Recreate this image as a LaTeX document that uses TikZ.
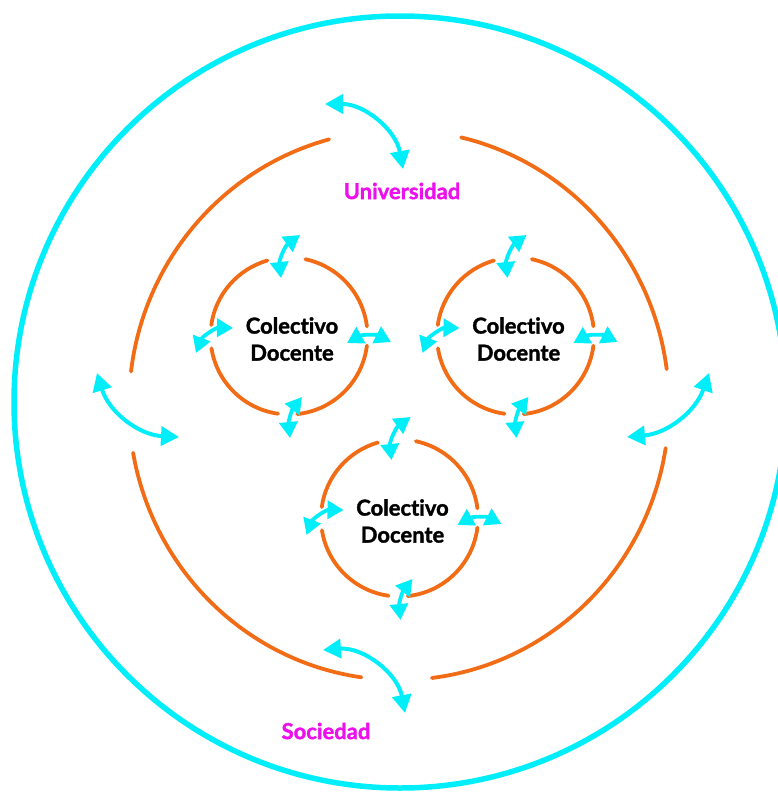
\documentclass[tikz,border=0pt]{standalone}
\usepackage{fontspec}
\setmainfont{Lato}[Ligatures=NoCommon, BoldFeatures={FakeBold=1.5}]
\usetikzlibrary{arrows.meta}
\definecolor{skyc}{RGB}{0,238,250}
\definecolor{ringc}{RGB}{242,108,22}
\definecolor{magc}{RGB}{236,16,236}
\tikzset{
  ring/.style={draw=ringc, line width=3.8pt, line cap=round},
  outerring/.style={draw=skyc, line width=5.5pt},
  flowsmall/.style={draw=skyc, line width=3.8pt,
    {Triangle[length=16pt,width=18pt]}-{Triangle[length=16pt,width=18pt]}},
  flowbig/.style={draw=skyc, line width=4pt,
    {Triangle[length=18pt,width=19pt]}-{Triangle[length=18pt,width=19pt]}},
  grouptxt/.style={font=\fontsize{22}{27}\selectfont\bfseries, align=center, text=black},
  scopetxt/.style={font=\fontsize{22}{27}\selectfont\bfseries, text=magc}
}
\begin{document}
\begin{tikzpicture}[x=1pt, y=-1pt]
\useasboundingbox (0,0) rectangle (777,792);

% society boundary
\draw[outerring] (400,402) circle[radius=386];

% university boundary, open at four points
\foreach \a/\b in {7.5/76.7, 105/173, 190/262, 277/351}
  \draw[ring] (399,405) ++(-\a:270 and 275)
    arc[start angle=-\a, end angle=-\b, x radius=270, y radius=275];

\node[scopetxt] (uni) at (402,191) {Universidad};
\node[scopetxt] (soc) at (326,731) {Sociedad};

% exchanges across the university boundary
\coordinate (u1) at (325,104); \coordinate (u2) at (403,169);
\coordinate (l1) at (97,373);  \coordinate (l2) at (179,437);
\coordinate (r1) at (627,437); \coordinate (r2) at (709,373);
\coordinate (s1) at (323,650); \coordinate (s2) at (405,713);
\draw[flowbig] (u1) to[bend left=40] (u2);
\draw[flowbig] (l1) to[bend right=35] (l2);
\draw[flowbig] (r1) to[bend right=33] (r2);
\draw[flowbig] (s1) to[bend left=42] (s2);

% teaching groups
\foreach \n/\cx/\cy in {ga/289/336, gb/515.5/336, gc/399.5/518} {
  \node[grouptxt] (\n) at (\cx+3,\cy+3) {Colectivo\\Docente};
  \foreach \a/\b in {7/78, 106/172, 189/262, 276/353}
    \draw[ring] (\cx,\cy) ++(-\a:78.5) arc[start angle=-\a, end angle=-\b, radius=78.5];
  \coordinate (\n-t1) at (\cx-8,\cy-58);  \coordinate (\n-t2) at (\cx+11,\cy-101);
  \coordinate (\n-l1) at (\cx-56,\cy-8);  \coordinate (\n-l2) at (\cx-93,\cy+17);
  \coordinate (\n-r1) at (\cx+58,\cy+7);  \coordinate (\n-r2) at (\cx+102,\cy+6);
  \coordinate (\n-b1) at (\cx+13,\cy+61); \coordinate (\n-b2) at (\cx+1,\cy+102);
  \draw[flowsmall] (\n-t1) to[bend left=30] (\n-t2);
  \draw[flowsmall] (\n-l1) to[bend right=35] (\n-l2);
  \draw[flowsmall] (\n-r1) to[bend left=28] (\n-r2);
  \draw[flowsmall] (\n-b1) to[bend right=22] (\n-b2);
}
\end{tikzpicture}
\end{document}
